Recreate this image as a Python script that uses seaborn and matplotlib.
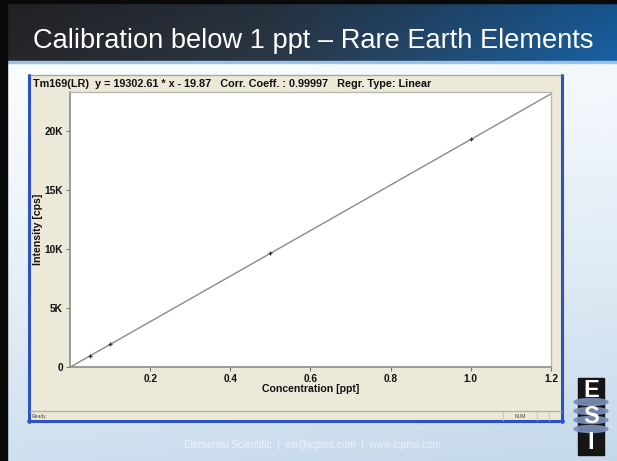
import numpy as np
import pandas as pd
import matplotlib
matplotlib.use("Agg")
import matplotlib.pyplot as plt
from matplotlib.patches import Rectangle, Ellipse
import seaborn as sns

# ---- data ----
conc_ppt = [0.05, 0.1, 0.5, 1.0]
intensity_cps = [950, 1910, 9620, 19300]
fit_x = [0.0, 1.2]
fit_y = [-19.87, 23143.26]
x_ticks = [0.2, 0.4, 0.6, 0.8, 1.0, 1.2]
x_tick_labels = ["0.2", "0.4", "0.6", "0.8", "1.0", "1.2"]
y_ticks = [0, 5000, 10000, 15000, 20000]
y_tick_labels = ["0", "5K", "10K", "15K", "20K"]
slide_title = "Calibration below 1 ppt \u2013 Rare Earth Elements"
chart_title = "Tm169(LR)  y = 19302.61 * x - 19.87   Corr. Coeff. : 0.99997   Regr. Type: Linear"
x_label = "Concentration [ppt]"
y_label = "Intensity [cps]"
footer = "Elemental Scientific  |  esi@icpms.com  |  www.icpms.com"

sns.set_style("white")
plt.rcParams["font.family"] = ["Liberation Sans", "DejaVu Sans"]

W, H = 617, 461
fig = plt.figure(figsize=(W / 100, H / 100), dpi=100)

# ---- background / decoration axes in pixel coordinates ----
bg = fig.add_axes([0, 0, 1, 1], zorder=0)
bg.set_xlim(0, W)
bg.set_ylim(H, 0)
bg.axis("off")

# slide body gradient (white top -> light blue bottom)
yy, xx = np.mgrid[0:1:200j, 0:1:200j]
top = np.array([0.98, 0.99, 1.0])
bot = np.array([0.77, 0.85, 0.92])
t = np.clip(yy * 0.85 + xx * 0.15, 0, 1)[..., None] ** 1.3
body = top * (1 - t) + bot * t
bg.imshow(body, extent=[0, W, H, 60], aspect="auto", zorder=0)

# header gradient (dark charcoal -> blue)
hx = np.linspace(0, 1, 300)
c0 = np.array([0.15, 0.15, 0.16])
c1 = np.array([0.17, 0.22, 0.28])
c2 = np.array([0.10, 0.38, 0.64])
cols = np.where(hx[:, None] < 0.45,
                c0 + (c1 - c0) * (hx[:, None] / 0.45),
                c1 + (c2 - c1) * ((hx[:, None] - 0.45) / 0.55))
hy = np.linspace(0, 1, 60)[:, None, None]
header = cols[None, :, :] * (0.85 + 0.15 * hy)
bg.imshow(np.clip(header, 0, 1), extent=[0, W, 62, 0], aspect="auto", zorder=1)
bg.add_patch(Rectangle((0, 61), W, 2, color="#9cc3e6", zorder=2))
# black frame on left and top
bg.add_patch(Rectangle((0, 0), 7, H, color="#0a0a0a", zorder=3))
bg.add_patch(Rectangle((0, 0), W, 3, color="#0a0a0a", zorder=3))

bg.text(33, 41, slide_title, color="white", fontsize=19.6, va="center",
        ha="left", zorder=4)

# application window
bg.add_patch(Rectangle((28, 75), 535, 347, facecolor="#ece9d8",
                       edgecolor="none", zorder=2))
bg.plot([28, 563], [75.5, 75.5], color="#a8a89a", lw=1, zorder=3)
bg.plot([29, 29], [75, 422], color="#2b52c8", lw=2.2, zorder=3)
bg.plot([562, 562], [75, 422], color="#2b52c8", lw=2.2, zorder=3)
bg.plot([28, 563], [421, 421], color="#2b52c8", lw=2.2, zorder=3)
bg.plot([30, 561], [410.5, 410.5], color="#b5b2a2", lw=1, zorder=3)
for sx in [503, 537, 549]:
    bg.plot([sx, sx], [412, 420], color="#c9c6b6", lw=0.8, zorder=3)
bg.text(32, 416, "Ready", fontsize=3.6, color="#444444", va="center", zorder=4)
bg.text(520, 416, "NUM", fontsize=3.6, color="#444444", va="center",
        ha="center", zorder=4)
bg.text(33, 84, chart_title, fontsize=7.85, fontweight="bold", color="#111111",
        va="center", ha="left", zorder=4)

# footer
bg.text(312, 445, footer, fontsize=7.2, color="#eef3f9", ha="center",
        va="center", zorder=4)

# ESI logo
bg.add_patch(Rectangle((578, 378), 26, 77, color="#151515", zorder=4))
for ey in [402, 411, 420, 429]:
    bg.add_patch(Ellipse((591, ey), 34, 7, color="#7a8fb8", alpha=0.9, zorder=5))
for letter, ly in [("E", 390), ("S", 416), ("I", 442)]:
    bg.text(591, ly, letter, color="white", fontsize=17, fontweight="bold",
            ha="center", va="center", zorder=6)

# ---- chart axes ----
ax = fig.add_axes([70 / W, 1 - 367 / H, 481 / W, 275 / H], zorder=5)
ax.set_facecolor("white")
line_df = pd.DataFrame({"x": fit_x, "y": fit_y})
pts_df = pd.DataFrame({"x": conc_ppt, "y": intensity_cps})
sns.lineplot(data=line_df, x="x", y="y", ax=ax, color="#8a8a8a", lw=1.0)
sns.scatterplot(data=pts_df, x="x", y="y", ax=ax, marker="+", s=10,
                color="#333333", linewidth=0.9, zorder=3)
ax.set_xlim(0, 1.2)
ax.set_ylim(0, 23300)
ax.set_xticks(x_ticks)
ax.set_xticklabels(x_tick_labels)
ax.set_yticks(y_ticks)
ax.set_yticklabels(y_tick_labels)
ax.tick_params(axis="both", direction="out", length=3, width=0.8,
               color="#777777", labelsize=7.3, pad=2, bottom=True, left=True)
for lab in ax.get_xticklabels() + ax.get_yticklabels():
    lab.set_fontweight("bold")
    lab.set_color("#111111")
ax.set_xlabel(x_label, fontsize=7.6, fontweight="bold", color="#111111",
              labelpad=0)
ax.set_ylabel(y_label, fontsize=7.6, fontweight="bold", color="#111111",
              labelpad=1)
for side in ["left", "bottom"]:
    ax.spines[side].set_color("#8d8d8d")
    ax.spines[side].set_linewidth(1.2)
for side in ["top", "right"]:
    ax.spines[side].set_color("#b8b8b0")
    ax.spines[side].set_linewidth(1.0)

fig.savefig("out.png", dpi=100)
